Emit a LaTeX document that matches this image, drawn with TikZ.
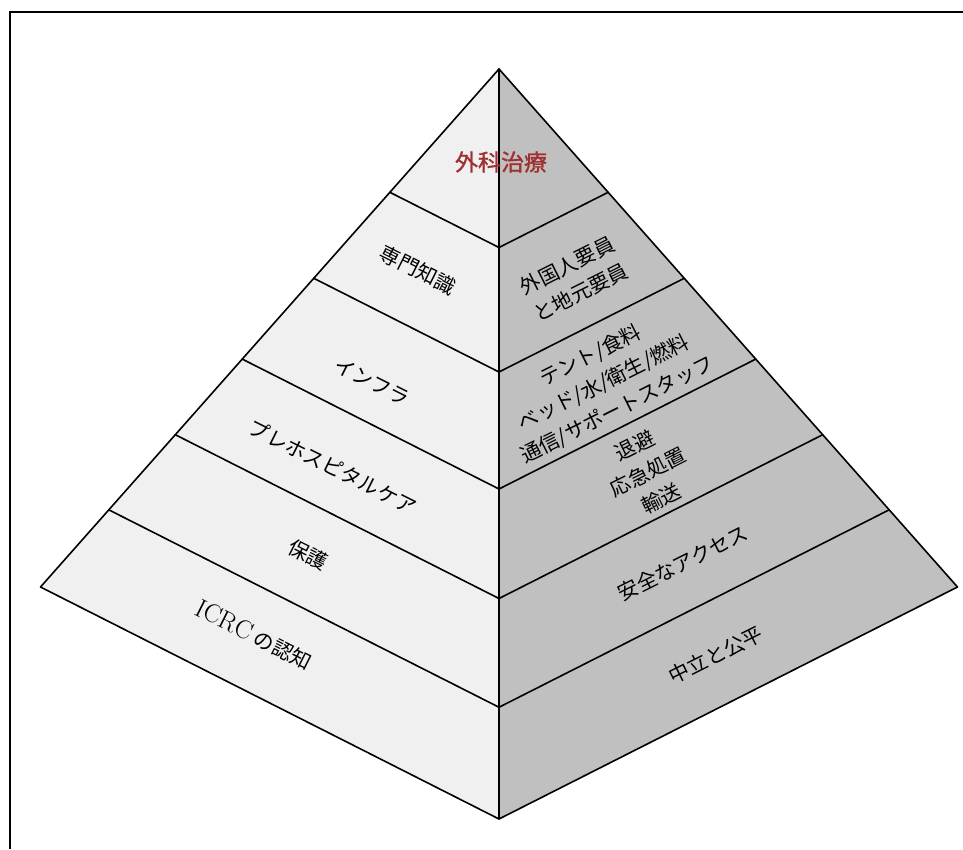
\documentclass[tikz,border=0pt]{standalone}
\usepackage{fontspec}
\newfontfamily\cjk{Noto Sans CJK JP}
\newfontfamily\cjktitle[FakeBold=1.2]{Noto Sans CJK JP}
\usetikzlibrary{calc}
\definecolor{leftface}{gray}{0.94}
\definecolor{rightface}{gray}{0.753}
\definecolor{titlered}{RGB}{160,48,48}
\begin{document}
\begin{tikzpicture}[x=1pt,y=-1pt,
  edge/.style={line width=1.6pt, line join=round, line cap=round},
  leftlabel/.style={rotate=-26.57, font=\cjk\fontsize{20.5}{30}\selectfont, align=center, inner sep=0pt},
  rightlabel/.style={rotate=26.57, font=\cjk\fontsize{20.5}{30}\selectfont, align=center, inner sep=0pt},
  titlelabel/.style={font=\cjktitle\fontsize{23}{26}\selectfont, text=titlered, inner sep=0pt}]
\useasboundingbox (0,0) rectangle (963,849);
\draw[line width=1.6pt] (10,849) -- (10,12) -- (963,12);
\coordinate (A) at (499,69);
\coordinate (L) at (40.5,587);
\coordinate (R) at (957.5,587);
\coordinate (B) at (499,819);
\fill[leftface] (A) -- (L) -- (B) -- cycle;
\fill[rightface] (A) -- (R) -- (B) -- cycle;
\foreach \t [count=\i] in {0.238,0.404,0.560,0.706,0.851} {
  \coordinate (l\i) at ($(A)!\t!(L)$);
  \coordinate (c\i) at ($(A)!\t!(B)$);
  \coordinate (r\i) at ($(A)!\t!(R)$);
  \draw[edge] (l\i) -- (c\i) -- (r\i);
}
\draw[edge] (A) -- (L) -- (B) -- (R) -- cycle;
\draw[edge] (A) -- (B);
% labels
\node[titlelabel] (t0) at (501,162) {外科治療};
\node[leftlabel] (lt1) at (418,270) {専門知識};
\node[leftlabel] (lt2) at (372,382) {インフラ};
\node[leftlabel] (lt3) at (333,467) {プレホスピタルケア};
\node[leftlabel] (lt4) at (308,555) {保護};
\node[leftlabel] (lt5) at (254,635) {{\rmfamily\fontsize{26}{30}\selectfont ICRC} の認知};
\node[rightlabel] (rt1) at (574,279) {外国人要員\\と地元要員};
\node[rightlabel] (rt2) at (604,383) {テント/食料\\ベッド/水/衛生/燃料\\通信/サポートスタッフ};
\node[rightlabel] (rt3) at (648,472) {退避\\応急処置\\輸送};
\node[rightlabel] (rt4) at (683,563) {安全なアクセス};
\node[rightlabel] (rt5) at (716,655) {中立と公平};
\end{tikzpicture}
\end{document}
